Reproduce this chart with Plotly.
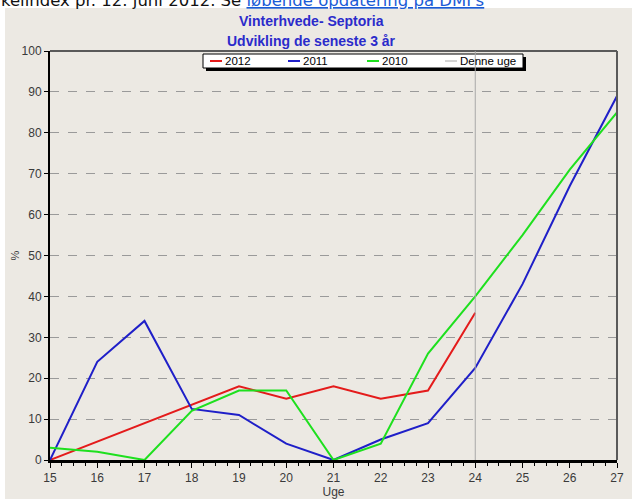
import plotly.graph_objects as go

# ---------------- data ----------------
weeks = list(range(15, 28))
weeks_2012 = list(range(15, 25))
s2012 = [0, 4.5, 9, 13.5, 18, 15, 18, 15, 17, 36]
s2011 = [0, 24, 34, 12.5, 11, 4, 0, 5, 9, 22.5, 43, 67, 89]
s2010 = [3, 2, 0, 12, 17, 17, 0, 4, 26, 40, 55, 71, 85]
current_week = 24
y_ticks = list(range(0, 101, 10))
series_names = ["2012", "2011", "2010"]
current_label = "Denne uge"
title_lines = ["Vinterhvede- Septoria", "Udvikling de seneste 3 år"]
x_title = "Uge"
y_title = "%"
top_text_plain = "kelindex pr. 12. juni 2012. Se "
top_text_link = "løbende opdatering på DMI's"

# ---------------- style ----------------
W, H = 632, 499
L, R, T, B = 50, 617, 51, 460          # plot area in pixels
colors = ["#E41B1B", "#1F1FC8", "#1EE01E"]
panel = "#ECE9E3"
font = "Liberation Sans, Arial, sans-serif"
tick_col = "#3a3a3a"


def px(x):
    return (x - L) / (R - L)


def py(y):
    return (B - y) / (B - T)


fig = go.Figure()
for name, xs, ys, c in zip(series_names, [weeks_2012, weeks, weeks],
                           [s2012, s2011, s2010], colors):
    fig.add_trace(go.Scatter(x=xs, y=ys, mode="lines", name=name,
                             line=dict(color=c, width=2), showlegend=False,
                             hoverinfo="skip"))

shapes = []
# white page strip above / left of the grey panel
shapes.append(dict(type="rect", xref="paper", yref="paper", layer="below",
                   x0=px(0), x1=px(W), y0=py(8), y1=py(0),
                   fillcolor="white", line=dict(width=0)))
shapes.append(dict(type="rect", xref="paper", yref="paper", layer="below",
                   x0=px(0), x1=px(5), y0=py(H), y1=py(0),
                   fillcolor="white", line=dict(width=0)))
# top and right frame of plot
shapes.append(dict(type="line", xref="paper", yref="paper",
                   x0=0, x1=1, y0=1, y1=1, line=dict(color="#5a5a5a", width=2)))
shapes.append(dict(type="line", xref="paper", yref="paper",
                   x0=1, x1=1, y0=0, y1=1, line=dict(color="#5a5a5a", width=2)))

# legend box with shadow
lx0, lx1, ly0, ly1 = 203, 523, 54, 68
shapes.append(dict(type="rect", xref="paper", yref="paper",
                   x0=px(lx0 + 3), x1=px(lx1 + 3), y0=py(ly1 + 3), y1=py(ly0 + 3),
                   fillcolor="black", line=dict(width=0)))
shapes.append(dict(type="rect", xref="paper", yref="paper",
                   x0=px(lx0), x1=px(lx1), y0=py(ly1), y1=py(ly0),
                   fillcolor="white", line=dict(color="black", width=1)))
legend_x = [210, 288, 367, 445]
legend_cols = colors + ["#A8A8A8"]
legend_labels = series_names + [current_label]
annotations = []
ly = (ly0 + ly1) / 2
for lxp, c, lab in zip(legend_x, legend_cols, legend_labels):
    shapes.append(dict(type="line", xref="paper", yref="paper",
                       x0=px(lxp), x1=px(lxp + 12), y0=py(ly), y1=py(ly),
                       line=dict(color=c, width=2 if c != "#A8A8A8" else 1)))
    annotations.append(dict(xref="paper", yref="paper", x=px(lxp + 13), y=py(ly),
                            xanchor="left", yanchor="middle", showarrow=False,
                            text=lab, font=dict(family=font, size=11.5, color="black")))

# current week marker
shapes.append(dict(type="line", xref="x", yref="paper",
                   x0=current_week, x1=current_week, y0=0, y1=1,
                   line=dict(color="#A8A8A8", width=1)))

# titles
for txt, yc in zip(title_lines, [21, 40.5]):
    annotations.append(dict(xref="paper", yref="paper", x=px(311), y=py(yc),
                            xanchor="center", yanchor="middle", showarrow=False,
                            text="<b>" + txt + "</b>",
                            font=dict(family=font, size=14, color="#2B2BCB")))

# cut off page text at top
annotations.append(dict(xref="paper", yref="paper", x=px(0), y=py(10.5),
                        xanchor="left", yanchor="bottom", showarrow=False,
                        borderpad=0,
                        text=top_text_plain + "<span style='color:#1a5bd6'><u>"
                        + top_text_link + "</u></span>",
                        font=dict(family="DejaVu Sans, Verdana, sans-serif",
                                  size=16.5, color="#111111")))

fig.update_layout(
    width=W, height=H,
    margin=dict(l=L, r=W - R, t=T, b=H - B, autoexpand=False),
    paper_bgcolor=panel, plot_bgcolor=panel,
    shapes=shapes, annotations=annotations,
    showlegend=False, hovermode=False,
    font=dict(family=font, size=12, color=tick_col),
)
fig.update_xaxes(range=[15, 27], tickvals=weeks, ticktext=[str(w) for w in weeks],
                 automargin=False,
                 showgrid=False, zeroline=False,
                 showline=True, linecolor="black", linewidth=3,
                 ticks="outside", ticklen=5, tickcolor="black", tickwidth=1,
                 minor=dict(dtick=0.25, tick0=15, ticks="outside", ticklen=3,
                            tickcolor="black", showgrid=False),
                 tickfont=dict(family=font, size=12, color=tick_col),
                 title=dict(text=x_title, standoff=2,
                            font=dict(family=font, size=12, color=tick_col)))
fig.update_yaxes(range=[0, 100], tickvals=y_ticks,
                 automargin=False,
                 showgrid=True, gridcolor="#9a9a9a", griddash="dash", gridwidth=1,
                 zeroline=False,
                 showline=True, linecolor="black", linewidth=2,
                 ticks="outside", ticklen=4, tickcolor="black",
                 tickfont=dict(family=font, size=12, color=tick_col),
                 title=dict(text=y_title, standoff=0,
                            font=dict(family=font, size=11, color=tick_col)))

fig.write_html("out.html",
               config={"displayModeBar": False, "staticPlot": True},
               post_script="document.body.style.margin='0';"
                           "document.body.style.overflow='hidden';")
